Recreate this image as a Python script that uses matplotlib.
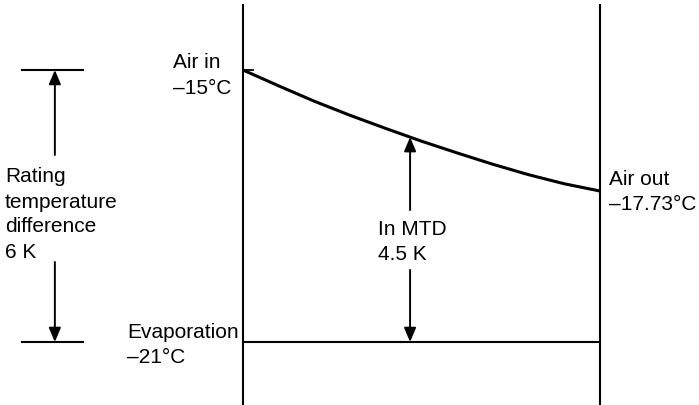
import numpy as np
import matplotlib
matplotlib.use("Agg")
import matplotlib.pyplot as plt

plt.rcParams['font.family'] = ['Liberation Sans', 'DejaVu Sans']

# ---- data ----
air_in = -15.0
air_out = -17.73
evaporation = -21.0
lmtd = 4.5
rating_dt = 6.0
# air temperature along the coil (fraction of coil depth -> °C)
pos = [0.0, 0.1, 0.2, 0.3, 0.4, 0.5, 0.6, 0.7, 0.8, 0.9, 1.0]
air_temp = [-15.00, -15.35, -15.69, -16.00, -16.29, -16.57, -16.83, -17.08, -17.31, -17.51, -17.67]
mtd_pos = 0.468

W, H = 699, 405
fig = plt.figure(figsize=(W / 100, H / 100), dpi=100)
ax = fig.add_axes([0, 0, 1, 1])
px_per_x = 357.0
px_per_K = 45.33
ax.set_xlim(-243 / px_per_x, (W - 243) / px_per_x)
ax.set_ylim(air_in - (H - 70) / px_per_K, air_in + 70 / px_per_K)
ax.axis('off')

k = 'black'
wall_top = air_in + 66 / px_per_K
wall_bot = air_in - 400 / px_per_K
# coil walls
for xw in (0.0, 1.0):
    ax.plot([xw, xw], [wall_bot, wall_top], color=k, lw=1.5, solid_capstyle='butt')
# evaporation line
ax.plot([0, 1], [evaporation, evaporation], color=k, lw=1.5)
# air curve
ax.plot(pos, air_temp, color=k, lw=2.2, solid_capstyle='butt')
ax.plot([0, 0.028], [air_in, air_in], color=k, lw=1.3)

# rating difference marks
xl0, xl1, xa = -0.619, -0.448, -0.527
for T in (air_in, air_in - rating_dt):
    ax.plot([xl0, xl1], [T, T], color=k, lw=1.5)

aprops = dict(arrowstyle='-|>,head_length=0.85,head_width=0.36', mutation_scale=10,
              color=k, lw=1.4, shrinkA=0, shrinkB=0)
ax.annotate('', xy=(xa, air_in), xytext=(xa, -16.875), arrowprops=aprops)
ax.annotate('', xy=(xa, air_in - rating_dt), xytext=(xa, -19.236), arrowprops=aprops)

# MTD arrow
T_curve = float(np.interp(mtd_pos, pos, air_temp))
ax.annotate('', xy=(mtd_pos, T_curve), xytext=(mtd_pos, -18.09), arrowprops=aprops)
ax.annotate('', xy=(mtd_pos, evaporation), xytext=(mtd_pos, -19.41), arrowprops=aprops)

fs = 15


def label(px, py, s):
    ax.text((px - 243) / px_per_x, air_in - (py - 70) / px_per_K, s,
            fontsize=fs, ha='left', va='center', color=k)


label(173, 63, 'Air in')
label(173, 89, '\u201315\u00b0C')
label(5, 177, 'Rating')
label(5, 202, 'temperature')
label(5, 227, 'difference')
label(5, 252, f'{rating_dt:g} K')
label(127, 332, 'Evaporation')
label(127, 357, '\u201321\u00b0C')
label(378, 230, 'In MTD')
label(378, 255, f'{lmtd:g} K')
label(609, 180, 'Air out')
label(609, 205, f'\u2013{abs(air_out):.2f}\u00b0C')

fig.savefig('out.png', dpi=100)
